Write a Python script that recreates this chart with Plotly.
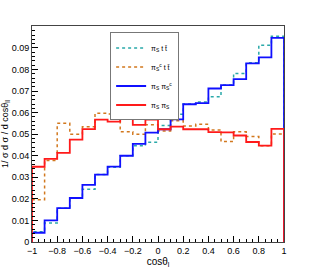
import numpy as np
import plotly.graph_objects as go

# bin edges for cos(theta_l)
bin_edges = np.linspace(-1, 1, 21)

series_names = ["π<sub>S</sub> t t̄", "π<sub>S</sub><sup>c</sup> t t̄", "π<sub>S</sub> π<sub>S</sub><sup>c</sup>", "π<sub>S</sub> π<sub>S</sub>"]

cyan_vals = [0.0048, 0.0088, 0.0157, 0.0204, 0.0245, 0.0313, 0.0347, 0.0400, 0.0446, 0.0463,
             0.0540, 0.0593, 0.0640, 0.0650, 0.0674, 0.0728, 0.0782, 0.0831, 0.0913, 0.0955]
orange_vals = [0.0196, 0.0378, 0.0551, 0.0500, 0.0535, 0.0597, 0.0594, 0.0511, 0.0500, 0.0544,
               0.0515, 0.0563, 0.0538, 0.0546, 0.0520, 0.0466, 0.0511, 0.0489, 0.0447, 0.0501]
blue_vals = [0.0043, 0.0100, 0.0157, 0.0204, 0.0265, 0.0313, 0.0350, 0.0400, 0.0455, 0.0507,
             0.0523, 0.0569, 0.0639, 0.0644, 0.0712, 0.0728, 0.0756, 0.0829, 0.0856, 0.0947]
red_vals = [0.0349, 0.0386, 0.0413, 0.0475, 0.0524, 0.0568, 0.0558, 0.0572, 0.0543, 0.0568,
            0.0523, 0.0535, 0.0523, 0.0523, 0.0510, 0.0509, 0.0494, 0.0464, 0.0447, 0.0525]

x_ticks = [-1, -0.8, -0.6, -0.4, -0.2, 0, 0.2, 0.4, 0.6, 0.8, 1]
x_tick_text = ["−1", "−0.8", "−0.6", "−0.4", "−0.2", "0", "0.2", "0.4", "0.6", "0.8", "1"]
y_ticks = [0, 0.01, 0.02, 0.03, 0.04, 0.05, 0.06, 0.07, 0.08, 0.09]
y_tick_text = ["0", "0.01", "0.02", "0.03", "0.04", "0.05", "0.06", "0.07", "0.08", "0.09"]


def step_xy(vals):
    xs = [bin_edges[0]] + list(bin_edges[:-1]) + [bin_edges[-1], bin_edges[-1]]
    ys = [0.0] + list(vals) + [vals[-1], 0.0]
    return xs, ys


fig = go.Figure()
styles = [
    (cyan_vals, "#2aa9a9", "dot", 1.5),
    (orange_vals, "#d2781e", "dot", 1.5),
    (blue_vals, "#1010ff", "solid", 1.8),
    (red_vals, "#ff1a1a", "solid", 1.8),
]
for name, (vals, col, dash, w) in zip(series_names, styles):
    xs, ys = step_xy(vals)
    fig.add_trace(go.Scatter(x=xs, y=ys, mode="lines", name=name,
                             line=dict(color=col, dash=dash, width=w, shape="hv")))

font_family = "Liberation Sans, Arial, sans-serif"
fig.update_layout(
    width=315, height=271,
    margin=dict(l=32, r=31, t=26, b=29),
    paper_bgcolor="white", plot_bgcolor="white",
    font=dict(family=font_family, size=9, color="black"),
    showlegend=True,
    legend=dict(x=0.31, y=0.97, xanchor="left", yanchor="top",
                bordercolor="#777", borderwidth=1, bgcolor="white",
                font=dict(size=7), itemwidth=30, tracegroupgap=0),
    xaxis=dict(range=[-1, 1], tickvals=x_ticks, ticktext=x_tick_text, automargin=False,
               ticks="inside", ticklen=6, tickcolor="black", showgrid=False, zeroline=False,
               showline=True, linecolor="#444", linewidth=1, mirror=True,
               minor=dict(ticks="inside", ticklen=3, dtick=0.05, tickcolor="black", showgrid=False),
               tickfont=dict(size=9),
               title=dict(text="cosθ<sub>l</sub>", font=dict(size=10), standoff=2)),
    yaxis=dict(range=[0, 0.1002], tickvals=y_ticks, ticktext=y_tick_text, automargin=False,
               ticks="inside", ticklen=6, tickcolor="black", showgrid=False, zeroline=False,
               showline=True, linecolor="#444", linewidth=1, mirror=True,
               minor=dict(ticks="inside", ticklen=3, dtick=0.002, tickcolor="black", showgrid=False),
               tickfont=dict(size=9),
               title=dict(text="1/ σ d σ / d cosθ<sub>ll</sub>", font=dict(size=9), standoff=4)),
)

fig.write_html("out.html", config={"displayModeBar": False},
               post_script="document.body.style.margin='0';document.body.style.padding='0';")
